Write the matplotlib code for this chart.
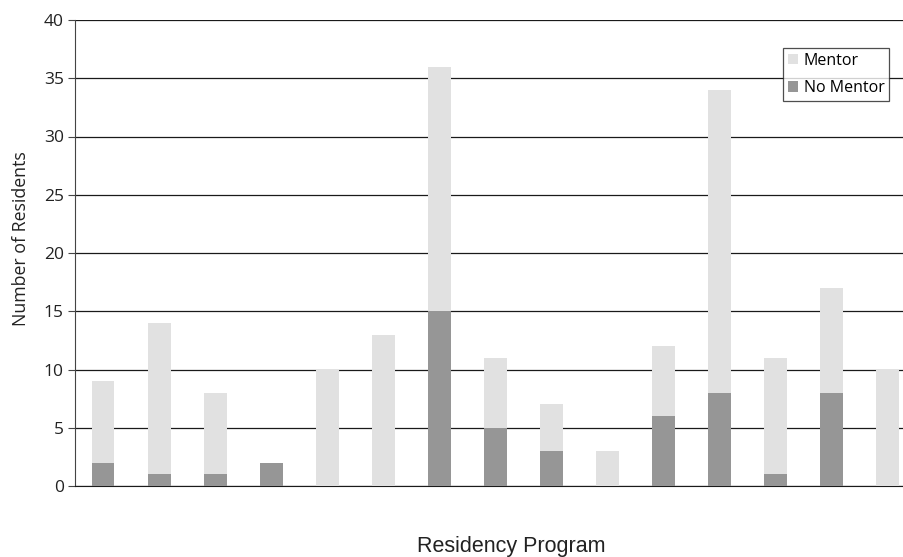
import matplotlib
matplotlib.use("Agg")
import matplotlib.pyplot as plt
import numpy as np

# Data
programs = np.arange(15)
no_mentor = [2, 1, 1, 2, 0, 0, 15, 5, 3, 0, 6, 8, 1, 8, 0]
totals = [9, 14, 8, 2, 10, 13, 36, 11, 7, 3, 12, 34, 11, 17, 10]
mentor = [t - n for t, n in zip(totals, no_mentor)]

plt.rcParams["font.family"] = ["Open Sans", "DejaVu Sans"]

fig = plt.figure(figsize=(9.04, 5.57), dpi=100)
ax = fig.add_axes([75 / 904, 71 / 557, 829 / 904, 466 / 557])

ax.bar(programs, no_mentor, width=0.41, color="#969696", label="No Mentor", zorder=3)
ax.bar(programs, mentor, width=0.41, bottom=no_mentor, color="#e1e1e1", label="Mentor", zorder=3)

ax.set_ylim(0, 40)
ax.set_xlim(-0.5, 14.3)
ax.set_yticks(range(0, 41, 5))
ax.set_xticks([])
ax.yaxis.grid(True, color="#1a1a1a", linewidth=0.9, zorder=0)

for s in ["top", "right"]:
    ax.spines[s].set_visible(False)
ax.spines["left"].set_color("#444444")
ax.spines["bottom"].set_color("#1a1a1a")
ax.tick_params(axis="y", length=5, pad=3, color="#444444", labelsize=12.5, labelcolor="#222222")

ax.set_ylabel("Number of Residents", fontsize=12.8, color="#222222")
ax.yaxis.set_label_coords(-0.054, 0.53)
ax.set_xlabel("Residency Program", fontsize=15.5, family="Liberation Sans", color="#222222")
ax.xaxis.set_label_coords(0.5265, -0.108)

handles, labels = ax.get_legend_handles_labels()
leg = ax.legend(handles[::-1], labels[::-1], loc="upper left", bbox_to_anchor=(0.854, 0.94),
                fontsize=11.5, frameon=True, fancybox=False, handlelength=0.65, handleheight=0.65,
                handletextpad=0.35, borderpad=0.3, labelspacing=0.7, borderaxespad=0)
leg.get_frame().set_edgecolor("#222222")
leg.get_frame().set_linewidth(0.9)
leg.set_zorder(5)

fig.savefig("out.png", dpi=100)
